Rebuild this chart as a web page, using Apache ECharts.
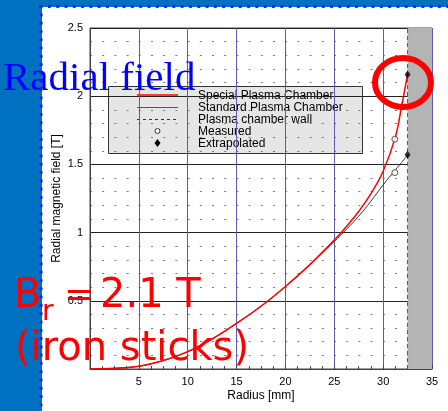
<!DOCTYPE html>
<html>
<head>
<meta charset="utf-8">
<script src="https://cdn.jsdelivr.net/npm/echarts@6/dist/echarts.min.js"></script>
<style>
html,body{margin:0;padding:0;background:#fff;}
#c{width:448px;height:411px;}
</style>
</head>
<body>
<div id="c"></div>
<script>
// ---- data ----
const radius = [0, 2.5, 5, 7.5, 10, 12.5, 15, 17.5, 20, 22.5, 25, 26.25, 27.5, 28.75, 30, 31.25, 31.9, 32.5];
const special = [0, 0.005, 0.02, 0.062, 0.127, 0.22, 0.335, 0.46, 0.605, 0.765, 0.945, 1.045, 1.155, 1.285, 1.45, 1.70, 1.93, 2.16];
const standard = [0, 0.005, 0.02, 0.062, 0.127, 0.22, 0.335, 0.46, 0.605, 0.765, 0.935, 1.025, 1.12, 1.23, 1.35, 1.46, 1.515, 1.57];
const wallX = 32.5;
const wallY = [0, 2.5];
const measuredX = [31.2, 31.2];
const measuredY = [1.685, 1.44];
const extrapX = [32.5, 32.5];
const extrapY = [2.16, 1.57];
const shadeRange = [32.5, 35];
const xTicks = [5, 10, 15, 20, 25, 30, 35];
const yTicks = [0.5, 1, 1.5, 2, 2.5];
const legendNames = ['Special Plasma Chamber', 'Standard Plasma Chamber', 'Plasma chamber wall', 'Measured', 'Extrapolated'];

const zip = (xs, ys) => xs.map((x, i) => [x, ys[i]]);

const chart = echarts.init(document.getElementById('c'), null, {renderer: 'canvas'});

const LX = 108, LY = 86;
const rowY = i => LY + 9 + i * 12;

const option = {
  animation: false,
  backgroundColor: '#fff',
  grid: {left: 90, right: 16, top: 28, bottom: 42, show: true, borderColor: '#444', borderWidth: 1, backgroundColor: '#fff'},
  xAxis: {
    type: 'value', min: 0, max: 35, interval: 5,
    name: 'Radius [mm]', nameLocation: 'middle', nameGap: 21, nameMoveOverlap: false,
    nameTextStyle: {fontFamily: 'Liberation Sans, Arial', fontSize: 12, color: '#000'},
    axisLine: {show: true, lineStyle: {color: '#444'}},
    axisTick: {show: true, inside: true, length: 4, lineStyle: {color: '#444'}},
    minorTick: {show: true, splitNumber: 4, length: 3, lineStyle: {color: '#444'}},
    axisLabel: {fontFamily: 'Liberation Sans, Arial', fontSize: 11, color: '#000', margin: 7,
      formatter: v => xTicks.includes(v) ? String(v) : ''},
    splitLine: {show: true, lineStyle: {color: '#5b5bb0', width: 1}}
  },
  yAxis: {
    type: 'value', min: 0, max: 2.5, interval: 0.5,
    name: 'Radial magnetic field [T]', nameLocation: 'middle', nameGap: 27, nameMoveOverlap: false,
    nameTextStyle: {fontFamily: 'Liberation Sans, Arial', fontSize: 12, color: '#000'},
    axisLine: {show: true, lineStyle: {color: '#444'}},
    axisTick: {show: false},
    axisLabel: {fontFamily: 'Liberation Sans, Arial', fontSize: 11, color: '#000', margin: 7,
      formatter: v => yTicks.includes(v) ? String(v) : ''},
    splitLine: {show: true, lineStyle: {color: '#222', width: 1}},
    minorTick: {show: false, splitNumber: 5},
    minorSplitLine: {show: true, lineStyle: {color: '#777', width: 1, type: [2, 10.2]}}
  },
  series: [
    {
      name: legendNames[2], type: 'line', data: zip([wallX, wallX], wallY),
      symbol: 'none', z: 3,
      lineStyle: {color: '#555', width: 1, type: [4, 3]},
      markArea: {silent: true, itemStyle: {color: '#b4b4b4', opacity: 1},
        data: [[{xAxis: shadeRange[0]}, {xAxis: shadeRange[1]}]]}
    },
    {
      name: legendNames[1], type: 'line', data: zip(radius, standard),
      symbol: 'none', smooth: 0.4, z: 4,
      lineStyle: {color: '#333', width: 1}
    },
    {
      name: legendNames[0], type: 'line', data: zip(radius, special),
      symbol: 'none', smooth: 0.4, z: 5,
      lineStyle: {color: '#ff0000', width: 1.5}
    },
    {
      name: legendNames[3], type: 'scatter', data: zip(measuredX, measuredY),
      symbol: 'circle', symbolSize: 6, z: 6,
      itemStyle: {color: '#fff', borderColor: '#333', borderWidth: 1}
    },
    {
      name: legendNames[4], type: 'scatter', data: zip(extrapX, extrapY),
      symbol: 'diamond', symbolSize: [6, 8], z: 6,
      itemStyle: {color: '#000'}
    }
  ],
  graphic: [
    // blue slide background
    {type: 'rect', z: 100, shape: {x: 0, y: 0, width: 42, height: 411}, style: {fill: '#0070c0'}},
    {type: 'rect', z: 100, shape: {x: 0, y: 0, width: 448, height: 7}, style: {fill: '#0070c0'}},
    {type: 'line', z: 101, shape: {x1: 41, y1: 6.5, x2: 448, y2: 6.5}, style: {stroke: '#0a2bf0', lineWidth: 3.5, lineDash: [0.1, 8.2], lineCap: 'round'}},
    {type: 'line', z: 101, shape: {x1: 41, y1: 6.5, x2: 41, y2: 411}, style: {stroke: '#0a2bf0', lineWidth: 3.5, lineDash: [0.1, 8.2], lineCap: 'round'}},
    // legend
    {type: 'group', z: 110, children: [
      {type: 'rect', shape: {x: LX + 0.5, y: LY + 0.5, width: 254, height: 67}, style: {fill: '#e6e6e6', stroke: '#333', lineWidth: 1}},
      {type: 'line', shape: {x1: 137, y1: rowY(0), x2: 178, y2: rowY(0)}, style: {stroke: '#ff0000', lineWidth: 1.5}},
      {type: 'line', shape: {x1: 137, y1: rowY(1) + 0.5, x2: 178, y2: rowY(1) + 0.5}, style: {stroke: '#555', lineWidth: 1}},
      {type: 'line', shape: {x1: 137, y1: rowY(2) + 0.5, x2: 178, y2: rowY(2) + 0.5}, style: {stroke: '#333', lineWidth: 1, lineDash: [3, 3]}},
      {type: 'circle', shape: {cx: 157.5, cy: rowY(3), r: 2.5}, style: {fill: '#fff', stroke: '#333', lineWidth: 1}},
      {type: 'polygon', shape: {points: [[157.5, rowY(4) - 4], [160.5, rowY(4)], [157.5, rowY(4) + 4], [154.5, rowY(4)]]}, style: {fill: '#000'}},
      ...legendNames.map((n, i) => ({type: 'text', style: {text: n, x: 198, y: rowY(i) + 0.5, verticalAlign: 'middle', fill: '#000', font: '12px "Liberation Sans", Arial'}}))
    ]},
    // overlay annotations
    {type: 'text', z: 120, style: {text: 'Radial field', x: 3, y: 79, verticalAlign: 'middle', fill: '#0000ff', font: '41px "Liberation Serif", "Times New Roman", serif'}},
    {type: 'ellipse', z: 120, shape: {cx: 403, cy: 82.5, rx: 28, ry: 24.5}, style: {fill: null, stroke: '#ff0000', lineWidth: 6}},
    {type: 'text', z: 120, style: {text: 'B', x: 14, y: 297, verticalAlign: 'middle', fill: '#ff0000', font: '40px "DejaVu Sans", sans-serif'}},
    {type: 'text', z: 120, style: {text: 'r', x: 42, y: 313, verticalAlign: 'middle', fill: '#ff0000', font: '28px "DejaVu Sans", sans-serif'}},
    {type: 'text', z: 120, style: {text: '=', x: 64, y: 297, verticalAlign: 'middle', fill: '#ff0000', font: '36px "DejaVu Sans", sans-serif'}},
    {type: 'text', z: 120, style: {text: '2.1 T', x: 100, y: 297, verticalAlign: 'middle', fill: '#ff0000', font: '40px "DejaVu Sans", sans-serif'}},
    {type: 'text', z: 120, style: {text: '(iron sticks)', x: 15, y: 350, verticalAlign: 'middle', fill: '#ff0000', font: '40px "DejaVu Sans", sans-serif'}}
  ]
};
chart.setOption(option);
</script>
</body>
</html>
